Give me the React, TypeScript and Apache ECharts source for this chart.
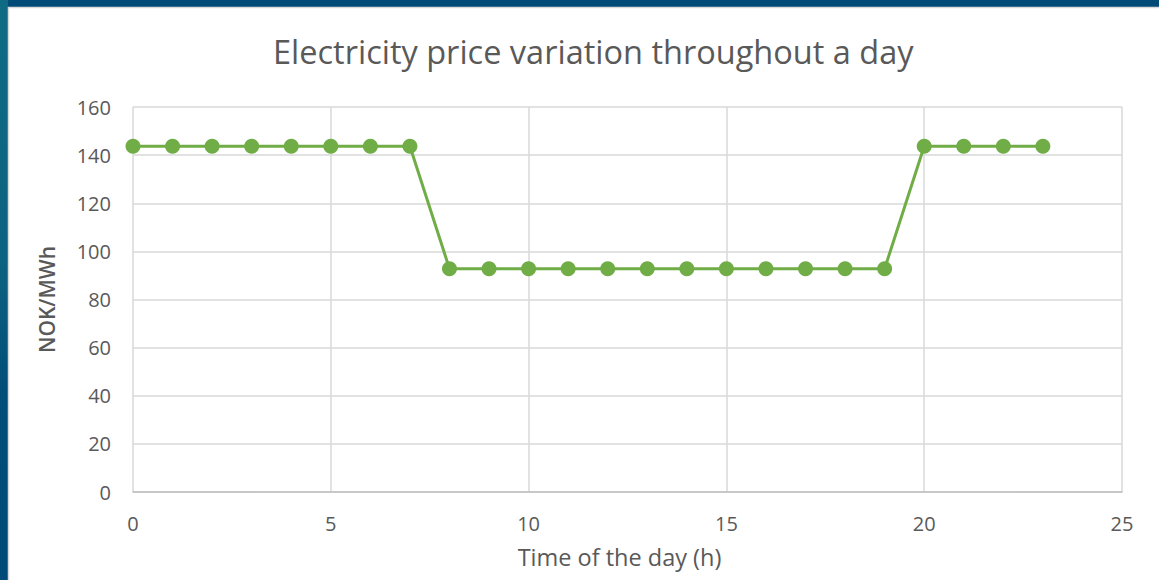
import React, { useEffect, useRef } from "react";
import * as echarts from "echarts";

const hours = [0, 1, 2, 3, 4, 5, 6, 7, 8, 9, 10, 11, 12, 13, 14, 15, 16, 17, 18, 19, 20, 21, 22, 23];
const prices = [143.7, 143.7, 143.7, 143.7, 143.7, 143.7, 143.7, 143.7, 92.8, 92.8, 92.8, 92.8, 92.8, 92.8, 92.8, 92.8, 92.8, 92.8, 92.8, 92.8, 143.7, 143.7, 143.7, 143.7];
const titleText = "Electricity price variation throughout a day";
const xName = "Time of the day (h)";
const yName = "NOK/MWh";

const FONT = "Open Sans";
const TXT = "#595959";

export default function App() {
  const ref = useRef<HTMLDivElement>(null);
  useEffect(() => {
    if (!ref.current) return;
    const chart = echarts.init(ref.current, undefined, { renderer: "svg" });
    chart.setOption({
      animation: false,
      backgroundColor: "#ffffff",
      graphic: [
        { type: "rect", shape: { x: 0, y: 0, width: 1159, height: 7 }, style: { fill: "#004a78" }, z: -10 },
        {
          type: "rect",
          shape: { x: 0, y: 0, width: 8, height: 580 },
          style: {
            fill: new echarts.graphic.LinearGradient(0, 0, 0, 1, [
              { offset: 0, color: "#0f6b84" },
              { offset: 0.45, color: "#0c6281" },
              { offset: 0.7, color: "#014c78" },
              { offset: 1, color: "#004a78" },
            ]),
          },
          z: -10,
        },
        { type: "line", shape: { x1: 8.5, y1: 7, x2: 8.5, y2: 580 }, style: { stroke: "#d9d9d9", lineWidth: 1.5 }, z: -9 },
        { type: "line", shape: { x1: 8, y1: 7.5, x2: 1159, y2: 7.5 }, style: { stroke: "#d9d9d9", lineWidth: 1.5 }, z: -9 },
      ],
      title: {
        text: titleText,
        left: 268,
        top: 30,
        textStyle: { fontFamily: FONT, fontSize: 32.5, fontWeight: "normal", color: TXT },
      },
      grid: { left: 133, right: 37, top: 107, bottom: 88 },
      xAxis: {
        type: "value",
        min: 0,
        max: 25,
        interval: 5,
        name: xName,
        nameLocation: "middle",
        nameGap: 53,
        nameTextStyle: { fontFamily: FONT, fontSize: 23.5, color: TXT, padding: [0, 16, 0, 0] },
        axisLine: { show: true, lineStyle: { color: "#bfbfbf", width: 1.5 } },
        axisTick: { show: false },
        axisLabel: { fontFamily: FONT, fontSize: 20, color: TXT, margin: 21 },
        splitLine: { show: true, lineStyle: { color: "#d9d9d9", width: 1.5 } },
      },
      yAxis: {
        type: "value",
        min: 0,
        max: 160,
        interval: 20,
        name: yName,
        nameLocation: "middle",
        nameGap: 76,
        nameRotate: 90,
        nameTextStyle: { fontFamily: FONT, fontSize: 21, fontWeight: 600, color: TXT },
        axisLine: { show: false },
        axisTick: { show: false },
        axisLabel: { fontFamily: FONT, fontSize: 20, color: TXT, margin: 22 },
        splitLine: { show: true, lineStyle: { color: "#d9d9d9", width: 1.5 } },
      },
      series: [
        {
          type: "line",
          data: hours.map((h, i) => [h, prices[i]]),
          symbol: "circle",
          symbolSize: 15,
          lineStyle: { color: "#70ad47", width: 3 },
          itemStyle: { color: "#70ad47" },
        },
      ],
    });
    return () => chart.dispose();
  }, []);
  return <div ref={ref} style={{ position: "fixed", left: 0, top: 0, width: 1159, height: 580 }} />;
}
